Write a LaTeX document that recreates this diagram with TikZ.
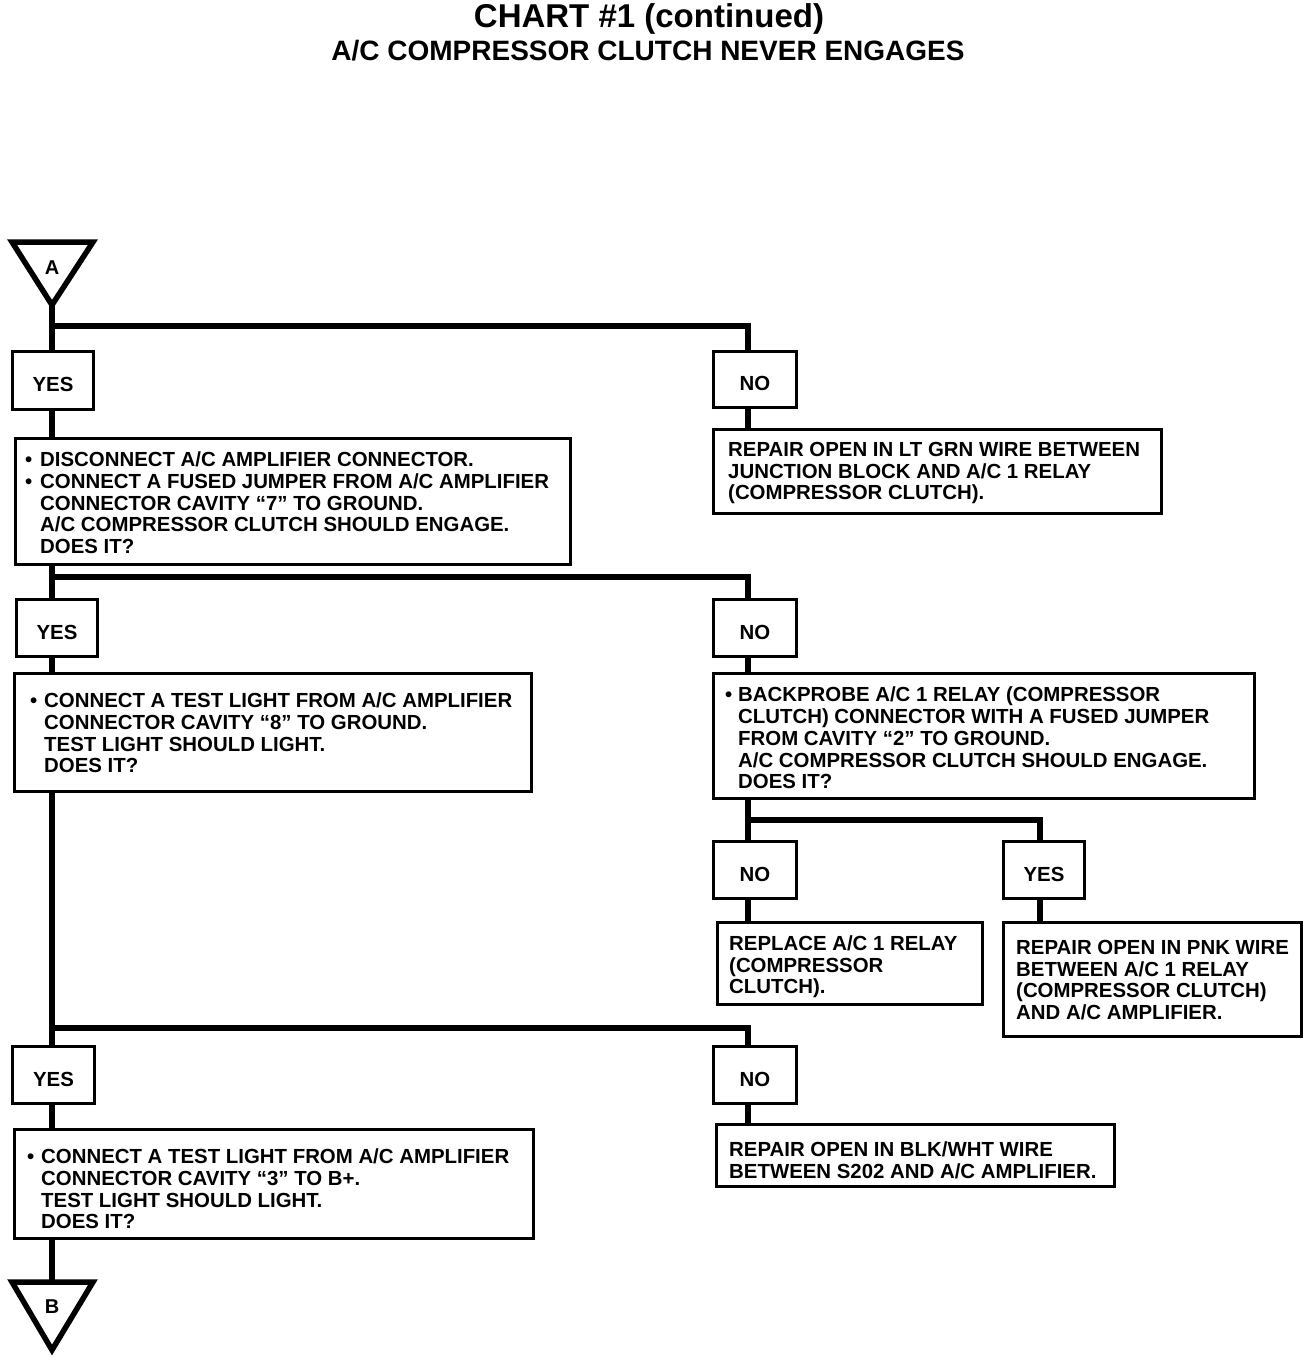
\documentclass[tikz,border=0pt]{standalone}
\usepackage{fontspec}
\setmainfont{Liberation Sans}
\newcommand\chbody{\fontsize{20.4}{21.7}\selectfont\bfseries}
\newcommand\chbul{\makebox[15pt][l]{\textbullet}}
\newcommand\chind{\hspace*{15pt}}
\begin{document}
\begin{tikzpicture}[x=1pt,y=-1pt,
  conn/.style={line width=6pt, line join=miter},
  box/.style={draw, line width=3pt, inner sep=0pt, anchor=north west, font=\chbody, text height=22pt, text depth=0pt},
  txt/.style={anchor=west, align=left, inner sep=0pt, font=\chbody},
  tri/.style={draw, line width=5.5pt, line join=miter},
  trilab/.style={font=\fontsize{20}{22}\selectfont\bfseries}]
\useasboundingbox (0,0) rectangle (1312,1360);

% titles
\node[font=\fontsize{33}{36}\selectfont\bfseries] (title) at (649,19) {CHART \#1 (continued)};
\node[font=\fontsize{28}{30}\selectfont\bfseries] (subtitle) at (648,51) {A/C COMPRESSOR CLUTCH NEVER ENGAGES};

% rails
\coordinate (L) at (52,0);
\coordinate (R) at (748,0);
\coordinate (R2) at (1040,0);
\coordinate (j1) at (52,326);
\coordinate (j2) at (52,577);
\coordinate (j3) at (748,820);
\coordinate (j4) at (52,1028);

% triangle A
\draw[tri] (12,242) -- (93,242) -- (52,305) -- cycle;
\coordinate (Abot) at (52,305);
\node[trilab] (Alab) at (52,268) {A};

% triangle B
\draw[tri] (12,1282) -- (93,1282) -- (52,1350) -- cycle;
\coordinate (Btop) at (52,1282);
\node[trilab] (Blab) at (52,1307) {B};

% boxes
\node[box, minimum width=81pt, minimum height=58pt] (yes1) at (11,350) {YES};
\node[box, minimum width=83pt, minimum height=56pt] (no1) at (712,350) {NO};
\node[box, minimum width=448pt, minimum height=84pt] (rep1) at (712,428) {};
\node[box, minimum width=555pt, minimum height=126pt] (dis) at (14,437) {};
\node[box, minimum width=81pt, minimum height=57pt] (yes2) at (15,598) {YES};
\node[box, minimum width=83pt, minimum height=57pt] (no2) at (712,598) {NO};
\node[box, minimum width=517pt, minimum height=118pt] (t8) at (13,672) {};
\node[box, minimum width=541pt, minimum height=125pt] (bp) at (712,672) {};
\node[box, minimum width=83pt, minimum height=57pt] (no3) at (712,840) {NO};
\node[box, minimum width=81pt, minimum height=57pt] (yes3) at (1002,840) {YES};
\node[box, minimum width=265pt, minimum height=82pt] (repl) at (716,921) {};
\node[box, minimum width=298pt, minimum height=114pt] (pnk) at (1002,921) {};
\node[box, minimum width=82pt, minimum height=57pt] (yes4) at (11,1045) {YES};
\node[box, minimum width=83pt, minimum height=57pt] (no4) at (712,1045) {NO};
\node[box, minimum width=398pt, minimum height=62pt] (blk) at (715,1123) {};
\node[box, minimum width=519pt, minimum height=109pt] (t3) at (13,1128) {};

% texts
\node[txt] (dist) at (25,503) {\chbul DISCONNECT A/C AMPLIFIER CONNECTOR.\\
\chbul CONNECT A FUSED JUMPER FROM A/C AMPLIFIER\\
\chind CONNECTOR CAVITY “7” TO GROUND.\\
\chind A/C COMPRESSOR CLUTCH SHOULD ENGAGE.\\
\chind DOES IT?};
\node[txt] (rep1t) at (728,473) {REPAIR OPEN IN LT GRN WIRE BETWEEN\\
JUNCTION BLOCK AND A/C 1 RELAY\\
(COMPRESSOR CLUTCH).};
\node[txt] (t8t) at (30,733) {\makebox[14pt][l]{\textbullet}CONNECT A TEST LIGHT FROM A/C AMPLIFIER\\
\hspace*{14pt}CONNECTOR CAVITY “8” TO GROUND.\\
\hspace*{14pt}TEST LIGHT SHOULD LIGHT.\\
\hspace*{14pt}DOES IT?};
\node[txt] (bpt) at (725,738) {\makebox[13pt][l]{\textbullet}BACKPROBE A/C 1 RELAY (COMPRESSOR\\
\hspace*{13pt}CLUTCH) CONNECTOR WITH A FUSED JUMPER\\
\hspace*{13pt}FROM CAVITY “2” TO GROUND.\\
\hspace*{13pt}A/C COMPRESSOR CLUTCH SHOULD ENGAGE.\\
\hspace*{13pt}DOES IT?};
\node[txt] (replt) at (729,967) {REPLACE A/C 1 RELAY\\
(COMPRESSOR\\
CLUTCH).};
\node[txt] (pnkt) at (1016,980) {REPAIR OPEN IN PNK WIRE\\
BETWEEN A/C 1 RELAY\\
(COMPRESSOR CLUTCH)\\
AND A/C AMPLIFIER.};
\node[txt] (blkt) at (729,1160) {REPAIR OPEN IN BLK/WHT WIRE\\
BETWEEN S202 AND A/C AMPLIFIER.};
\node[txt] (t3t) at (27,1189) {\makebox[14pt][l]{\textbullet}CONNECT A TEST LIGHT FROM A/C AMPLIFIER\\
\hspace*{14pt}CONNECTOR CAVITY “3” TO B+.\\
\hspace*{14pt}TEST LIGHT SHOULD LIGHT.\\
\hspace*{14pt}DOES IT?};

% connectors
\draw[conn] (Abot) -- (L |- yes1.north);
\draw[conn] (j1) -- (R |- j1) -- (R |- no1.north);
\draw[conn] (R |- no1.south) -- (R |- rep1.north);
\draw[conn] (L |- yes1.south) -- (L |- dis.north);
\draw[conn] (L |- dis.south) -- (L |- yes2.north);
\draw[conn] (j2) -- (R |- j2) -- (R |- no2.north);
\draw[conn] (L |- yes2.south) -- (L |- t8.north);
\draw[conn] (R |- no2.south) -- (R |- bp.north);
\draw[conn] (R |- bp.south) -- (R |- no3.north);
\draw[conn] (j3) -- (R2 |- j3) -- (R2 |- yes3.north);
\draw[conn] (R |- no3.south) -- (R |- repl.north);
\draw[conn] (R2 |- yes3.south) -- (R2 |- pnk.north);
\draw[conn] (L |- t8.south) -- (L |- yes4.north);
\draw[conn] (j4) -- (R |- j4) -- (R |- no4.north);
\draw[conn] (L |- yes4.south) -- (L |- t3.north);
\draw[conn] (R |- no4.south) -- (R |- blk.north);
\draw[conn] (L |- t3.south) -- (Btop);
\end{tikzpicture}
\end{document}
